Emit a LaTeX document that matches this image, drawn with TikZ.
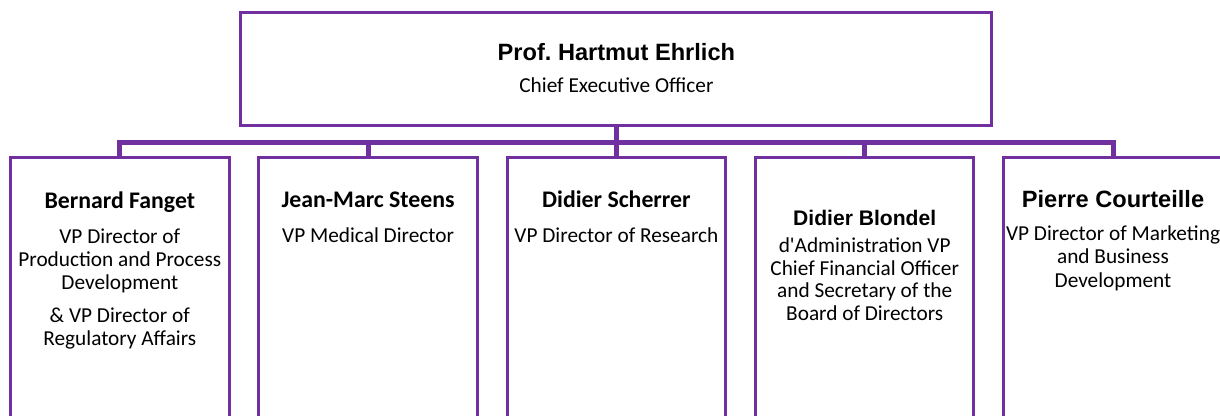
\documentclass[tikz,border=0pt]{standalone}
\usepackage{fontspec}
\setmainfont{Carlito}
\newfontfamily\arialfont{Liberation Sans}
\usetikzlibrary{positioning}
\definecolor{orgpurple}{HTML}{7030A0}
\newcommand\namecal{\fontsize{23.8}{26}\selectfont\bfseries}
\newcommand\namearial{\arialfont\fontsize{23.6}{26}\selectfont\bfseries}
\newcommand\bodytext{\fontsize{21.3}{23}\selectfont}
\newcommand\bodytight{\fontsize{21.3}{22.5}\selectfont}

\begin{document}
\begin{tikzpicture}[x=1pt,y=-1pt,
  box/.style={draw=orgpurple,line width=3pt,inner sep=0pt},
  vpbox/.style={box,anchor=north,minimum width=218.5pt,minimum height=320pt},
  link/.style={orgpurple,line width=5pt},
  txt/.style={align=center,inner sep=0pt,anchor=base}]
\useasboundingbox (0,0) rectangle (1220,415);
\clip (0,0) rectangle (1220,415);
\node[box,minimum width=751pt,minimum height=112.6pt] (ceo) at (616.4,69) {};
\foreach \i/\x in {1/119.8,2/368.1,3/616.4,4/864.7,5/1113}
  \node[vpbox] (vp\i) at (\x,155.7) {};
\coordinate (bus) at ([yshift=-15.7pt]ceo.south);
\draw[link] (ceo.south) -- (bus);
\foreach \i in {1,...,5}
  \draw[link] (bus) -| (vp\i.north);

% multi-line titles sit on the baseline of their last line
\node[txt,font=\namearial] (ceoname) at ([yshift=-49pt]ceo.north) {Prof.\ Hartmut Ehrlich};
\node[txt,font=\bodytext] (ceotitle) at ([yshift=-32pt]ceoname.base) {Chief Executive Officer};

\node[txt,font=\namecal] (name1) at ([yshift=-53pt]vp1.north) {Bernard Fanget};
\node[txt,font=\bodytext] (title1) at ([yshift=-137pt]name1.base)
  {VP Director of\\Production and Process\\Development\\[10pt]\& VP Director of\\Regulatory Affairs};
\node[txt,font=\namecal] (name2) at ([yshift=-51.8pt]vp2.north) {Jean-Marc Steens};
\node[txt,font=\bodytext] (title2) at ([yshift=-35pt]name2.base) {VP Medical Director};
\node[txt,font=\namecal] (name3) at ([yshift=-51.8pt]vp3.north) {Didier Scherrer};
\node[txt,font=\bodytext] (title3) at ([yshift=-35pt]name3.base) {VP Director of Research};
\node[txt,font=\namearial\fontsize{21.1}{24}\selectfont] (name4) at ([yshift=-70pt]vp4.north) {Didier Blondel};
\node[txt,font=\bodytight] (title4) at ([yshift=-94.5pt]name4.base)
  {d\textquotesingle Administration VP\\Chief Financial Officer\\and Secretary of the\\Board of Directors};
\node[txt,font=\namearial] (name5) at ([yshift=-51.3pt]vp5.north) {Pierre Courteille};
\node[txt,font=\fontsize{21.3}{23.5}\selectfont] (title5) at ([yshift=-80pt]name5.base)
  {VP Director of Marketing\\and Business\\Development};
\end{tikzpicture}
\end{document}
